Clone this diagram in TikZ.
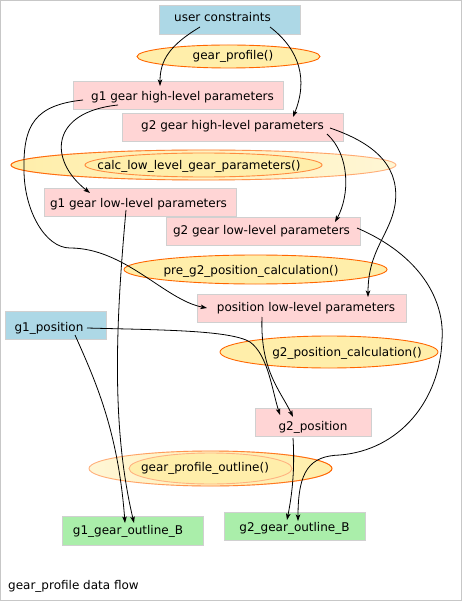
\documentclass[tikz,border=0pt]{standalone}
\usepackage{fontspec}
\setmainfont{DejaVu Sans}
\usetikzlibrary{arrows.meta,calc,fadings}
\definecolor{boxblue}{HTML}{ADD8E6}
\definecolor{boxpink}{HTML}{FFD5D5}
\definecolor{boxgreen}{HTML}{AAEEAA}
\definecolor{yel}{HTML}{FFEEAA}
\definecolor{ylight}{HTML}{FFF6D5}
\definecolor{orng}{HTML}{FF6600}
\definecolor{orlight}{HTML}{FFB380}
\definecolor{boxline}{HTML}{D0D0D0}
% #1 horizontal shift, #2 downward shift, #3 text
\newcommand{\txs}[3]{\raisebox{-#2}{\makebox[0pt]{\hspace*{#1}\hspace*{#1}#3}}}
\begin{document}
\begin{tikzpicture}[x=1pt,y=-1pt,
  font=\fontsize{12}{14}\selectfont,
  box/.style={rectangle,draw=boxline,line width=0.9pt,inner sep=0pt,text height=9pt,text depth=3pt},
  lbl/.style={inner sep=0pt,text height=9pt,text depth=3pt},
  ell/.style={fill=yel,draw=orng,line width=0.9pt},
  conn/.style={draw,line width=0.8pt,-{Stealth[length=6.5pt,width=4.5pt,inset=1.5pt]}}]
\useasboundingbox (0,0) rectangle (462,601);
\fill[white] (0,0) rectangle (462,601);
\draw[black!22,line width=1.3pt] (0.65,0.65) rectangle (461.35,600.35);

% ellipses
\filldraw[ell] (228.5,56.5) ellipse [x radius=91.5,y radius=11.5];
% calc outer (strong left, faded right)
\shade[left color=yel,right color=ylight] (203.5,165) ellipse [x radius=192.5,y radius=15];
\draw[orlight,line width=0.9pt] (203.5,165) ellipse [x radius=192.5,y radius=15];
\draw[orng,line width=0.9pt,path fading=east] (203.5,165) ellipse [x radius=192.5,y radius=15];
\filldraw[fill=yel,draw=orng!75,line width=0.9pt] (203.5,165) ellipse [x radius=118.5,y radius=12];
\filldraw[ell] (255.5,269.5) ellipse [x radius=131.5,y radius=14.5];
\filldraw[ell] (329,352) ellipse [x radius=109,y radius=16];
% gear_profile_outline outer (faded left, strong right)
\shade[left color=ylight,right color=yel] (210.5,468.5) ellipse [x radius=121.5,y radius=17.5];
\draw[orlight,line width=0.9pt] (210.5,468.5) ellipse [x radius=121.5,y radius=17.5];
\draw[orng,line width=0.9pt,path fading=west] (210.5,468.5) ellipse [x radius=121.5,y radius=17.5];
\filldraw[fill=yel,draw=orlight,line width=0.9pt] (210.5,468.5) ellipse [x radius=81.5,y radius=15.5];

% ellipse labels
\node[lbl] (f1) at (233,57) {gear\_profile()};
\node[lbl] (f2) at (199,166.3) {calc\_low\_level\_gear\_parameters()};
\node[lbl] (f3) at (251,271) {pre\_g2\_position\_calculation()};
\node[lbl] (f4) at (347,353) {g2\_position\_calculation()};
\node[lbl] (f5) at (205,468) {gear\_profile\_outline()};

% boxes
\node[box,fill=boxblue,minimum width=141pt,minimum height=29pt] (uc) at (229.5,19.5) {\txs{-7pt}{-0.5pt}{user constraints}};
\node[box,fill=boxpink,minimum width=210pt,minimum height=28pt] (g1h) at (178,95) {\txs{4.5pt}{2.7pt}{g1 gear high-level parameters}};
\node[box,fill=boxpink,minimum width=221pt,minimum height=28pt] (g2h) at (232.5,127) {g2 gear high-level parameters};
\node[box,fill=boxpink,minimum width=192pt,minimum height=28pt] (g1l) at (140,202) {\txs{-1.5pt}{2.7pt}{g1 gear low-level parameters}};
\node[box,fill=boxpink,minimum width=194pt,minimum height=28pt] (g2l) at (263,231) {\txs{-1.5pt}{1pt}{g2 gear low-level parameters}};
\node[box,fill=boxpink,minimum width=209pt,minimum height=28pt] (pll) at (301.5,308) {\txs{4.5pt}{0.7pt}{position low-level parameters}};
\node[box,fill=boxblue,minimum width=101pt,minimum height=28pt] (g1p) at (55.5,325) {\txs{-6.5pt}{3pt}{g1\_position}};
\node[box,fill=boxpink,minimum width=116pt,minimum height=28pt] (g2p) at (313,422) {\txs{0pt}{5pt}{g2\_position}};
\node[box,fill=boxgreen,minimum width=141pt,minimum height=29pt] (g1o) at (132.5,530.5) {\txs{-4.5pt}{0.8pt}{g1\_gear\_outline\_B}};
\node[box,fill=boxgreen,minimum width=141pt,minimum height=28pt] (g2o) at (294.5,526) {\txs{0pt}{2.7pt}{g2\_gear\_outline\_B}};

\node[lbl,anchor=west] (title) at (8,586) {gear\_profile data flow};

% connectors
\draw[conn] ($(uc)+(-29.5,7.5)$) .. controls (170,45) and (160,60) .. ($(g1h)+(-18,-9)$);
\draw[conn] ($(uc)+(40.5,7.5)$) .. controls (300,50) and (308,80) .. ($(g2h)+(60.5,-10)$);
\draw[conn] ($(g1h)+(-95,5)$) .. controls (35,105) and (23,125) .. (24,170)
   .. controls (24,210) and (45,248) .. (70,248)
   .. controls (125,248) and (165,300) .. ($(pll)+(-94.5,0)$);
\draw[conn] ($(g1h)+(-60,10)$) .. controls (50,112) and (48,160) .. ($(g1l)+(-50,-9)$);
\draw[conn] ($(g2h)+(94.5,7)$) .. controls (350,155) and (350,195) .. ($(g2l)+(72,-9)$);
\draw[conn] ($(g2h)+(97.5,1)$) .. controls (380,145) and (400,170) .. (395,205)
   .. controls (390,235) and (368,250) .. ($(pll)+(66.5,-11)$);
\draw[conn] ($(g1l)+(-14,8)$) .. controls (115,330) and (112,430) .. ($(g1o)+(1.5,-7.5)$);
\draw[conn] ($(g1p)+(19.5,10)$) .. controls (95,380) and (118,430) .. ($(g1o)+(-7.5,-7.5)$);
\draw[conn] ($(g1p)+(31.5,3)$) .. controls (160,330) and (230,330) .. (250,342)
   .. controls (268,355) and (272,390) .. ($(g2p)+(-33,-7)$);
\draw[conn] ($(pll)+(-39.5,9)$) .. controls (260,370) and (280,390) .. ($(g2p)+(-20,-5)$);
\draw[conn] ($(g2p)+(-20,16)$) .. controls (295,470) and (292,495) .. ($(g2o)+(-7.5,-6)$);
\draw[conn] ($(g2l)+(94,-3)$) .. controls (420,255) and (445,300) .. (442,340)
   .. controls (440,400) and (400,450) .. (340,455)
   .. controls (310,456) and (298,470) .. ($(g2o)+(3.5,-5)$);
\end{tikzpicture}
\end{document}
